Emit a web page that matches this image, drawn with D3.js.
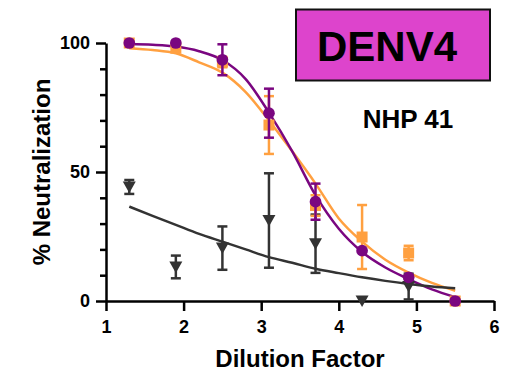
<!DOCTYPE html>
<html>
<head>
<meta charset="utf-8">
<script src="https://cdn.jsdelivr.net/npm/d3@7"></script>
<style>
  body { margin: 0; background: #fff; }
  text { font-family: "Liberation Sans", Arial, sans-serif; font-weight: bold; }
</style>
</head>
<body>
<div id="chart"></div>
<script>
// data
var dilution = [1.3, 1.9, 2.5, 3.1, 3.7, 4.3, 4.9, 5.5];
var purpleMean = [100, 100, 93.5, 72.8, 38.5, 19.5, 9.2, 0];
var purpleErr = [0, 0, 6, 9.5, 7, 0, 0, 0];
var orangeMean = [100, 98, 92.6, 68.2, 37, 24.8, 18.6, 0];
var orangeErr = [0, 0, 2, 11.2, 4, 12.4, 2.8, 0];
var grayMean = [44.2, 13.2, 20.5, 31.2, 22.2, 0, 5.6, null];
var grayErr = [2.7, 4.4, 8.4, 18.3, 11.3, 0, 5, 0];

// fitted curves
var fitX = [1.3, 1.6, 1.9, 2.2, 2.5, 2.8, 3.1, 3.4, 3.7, 4.0, 4.3, 4.6, 4.9, 5.2, 5.5];
var purpleFit = [99.6, 99.3, 98.6, 96.8, 93.4, 86, 73, 58, 41, 28, 19, 13, 8.5, 4.5, 1.5];
var orangeFit = [98, 97.3, 96, 92.5, 88.5, 81, 70, 58, 45.5, 32, 23, 16, 11, 7, 4];
var grayFit = [36.6, 33, 29.5, 26, 23, 20, 17, 14.8, 12.5, 10.8, 9.2, 7.8, 6.6, 5.6, 4.9];

var xTicks = [1, 2, 3, 4, 5, 6];
var yLabels = [0, 50, 100];

var w = 507, h = 375;
var purple = "#7a0680", orange = "#ffa040", gray = "#333333";

var svg = d3.select("#chart").append("svg")
    .attr("width", w)
    .attr("height", h);

var x = d3.scaleLinear().domain([1, 6]).range([106, 494]);
var y = d3.scaleLinear().domain([0, 100]).range([301, 43]);

// x axis
var xAxis = svg.append("g")
    .attr("transform", "translate(0," + y(0) + ")")
    .call(d3.axisBottom(x).tickValues(xTicks).tickFormat(d3.format("d"))
        .tickSize(10).tickSizeOuter(0).tickPadding(9));
xAxis.selectAll("text").attr("font-size", 18).attr("fill", "#000")
    .style("font-family", "Liberation Sans, Arial, sans-serif").style("font-weight", "bold");

// y axis: minor ticks every 10, labels at 0/50/100
var yAxis = svg.append("g")
    .attr("transform", "translate(" + x(1) + ",0)")
    .call(d3.axisLeft(y).tickValues(d3.range(0, 101, 10)).tickSizeOuter(0)
        .tickFormat(function (d) { return yLabels.indexOf(d) >= 0 ? d : ""; }));
yAxis.selectAll(".tick line").attr("x2", function (d) { return yLabels.indexOf(d) >= 0 ? -10 : -6; });
yAxis.selectAll("text").attr("x", -16).attr("font-size", 18).attr("fill", "#000")
    .style("font-family", "Liberation Sans, Arial, sans-serif").style("font-weight", "bold");

svg.selectAll(".domain, .tick line")
    .attr("stroke", "#000")
    .attr("stroke-width", 2.5);

// axis titles
svg.append("text")
    .attr("x", (x(1) + x(6)) / 2)
    .attr("y", 367)
    .attr("text-anchor", "middle")
    .attr("font-size", 24)
    .text("Dilution Factor");

svg.append("text")
    .attr("transform", "translate(50," + y(50) + ") rotate(-90)")
    .attr("text-anchor", "middle")
    .attr("font-size", 24)
    .text("% Neutralization");

// curves
var line = d3.line()
    .x(function (d) { return x(d[0]); })
    .y(function (d) { return y(d[1]); })
    .curve(d3.curveMonotoneX);

[[orangeFit, orange], [purpleFit, purple], [grayFit, gray]].forEach(function (s) {
    svg.append("path")
        .datum(d3.zip(fitX, s[0]))
        .attr("fill", "none")
        .attr("stroke", s[1])
        .attr("stroke-width", 2.5)
        .attr("d", line);
});

// down triangle centred on its box, like the prism symbol
var downTri = "M-6.5,-5.5L6.5,-5.5L0,6Z";

// error bars + markers
function drawSeries(means, errs, color, marker) {
    var pts = dilution.map(function (d, i) {
        return { x: d, m: means[i], e: errs[i] };
    }).filter(function (d) { return d.m !== null; });

    var g = svg.append("g");
    var eb = g.selectAll("g.err")
        .data(pts.filter(function (d) { return d.e > 0; }))
        .enter().append("g")
        .attr("stroke", color)
        .attr("stroke-width", 2.5);
    eb.append("line")
        .attr("x1", function (d) { return x(d.x); })
        .attr("x2", function (d) { return x(d.x); })
        .attr("y1", function (d) { return y(d.m + d.e); })
        .attr("y2", function (d) { return y(Math.max(0, d.m - d.e)); });
    eb.append("line")
        .attr("x1", function (d) { return x(d.x) - 5; })
        .attr("x2", function (d) { return x(d.x) + 5; })
        .attr("y1", function (d) { return y(d.m + d.e); })
        .attr("y2", function (d) { return y(d.m + d.e); });
    eb.filter(function (d) { return d.m - d.e > 0; }).append("line")
        .attr("x1", function (d) { return x(d.x) - 5; })
        .attr("x2", function (d) { return x(d.x) + 5; })
        .attr("y1", function (d) { return y(d.m - d.e); })
        .attr("y2", function (d) { return y(d.m - d.e); });

    g.selectAll("path.mark")
        .data(pts)
        .enter().append("path")
        .attr("class", "mark")
        .attr("fill", color)
        .attr("transform", function (d) {
            return "translate(" + x(d.x) + "," + y(d.m) + ")";
        })
        .attr("d", marker === "tri" ? downTri :
            d3.symbol().type(marker).size(marker === d3.symbolCircle ? 108 : 121)());
}

drawSeries(grayMean, grayErr, gray, "tri");
drawSeries(orangeMean, orangeErr, orange, d3.symbolSquare);
drawSeries(purpleMean, purpleErr, purple, d3.symbolCircle);

// title box
svg.append("rect")
    .attr("x", 296)
    .attr("y", 9.5)
    .attr("width", 194)
    .attr("height", 71)
    .attr("fill", "#dd44cc")
    .attr("stroke", "#111")
    .attr("stroke-width", 2);

svg.append("text")
    .attr("x", 387)
    .attr("y", 61)
    .attr("text-anchor", "middle")
    .attr("font-size", 42)
    .attr("fill", "#000")
    .text("DENV4");

svg.append("text")
    .attr("x", 408)
    .attr("y", 128)
    .attr("text-anchor", "middle")
    .attr("font-size", 26)
    .attr("fill", "#000")
    .text("NHP 41");
</script>
</body>
</html>
